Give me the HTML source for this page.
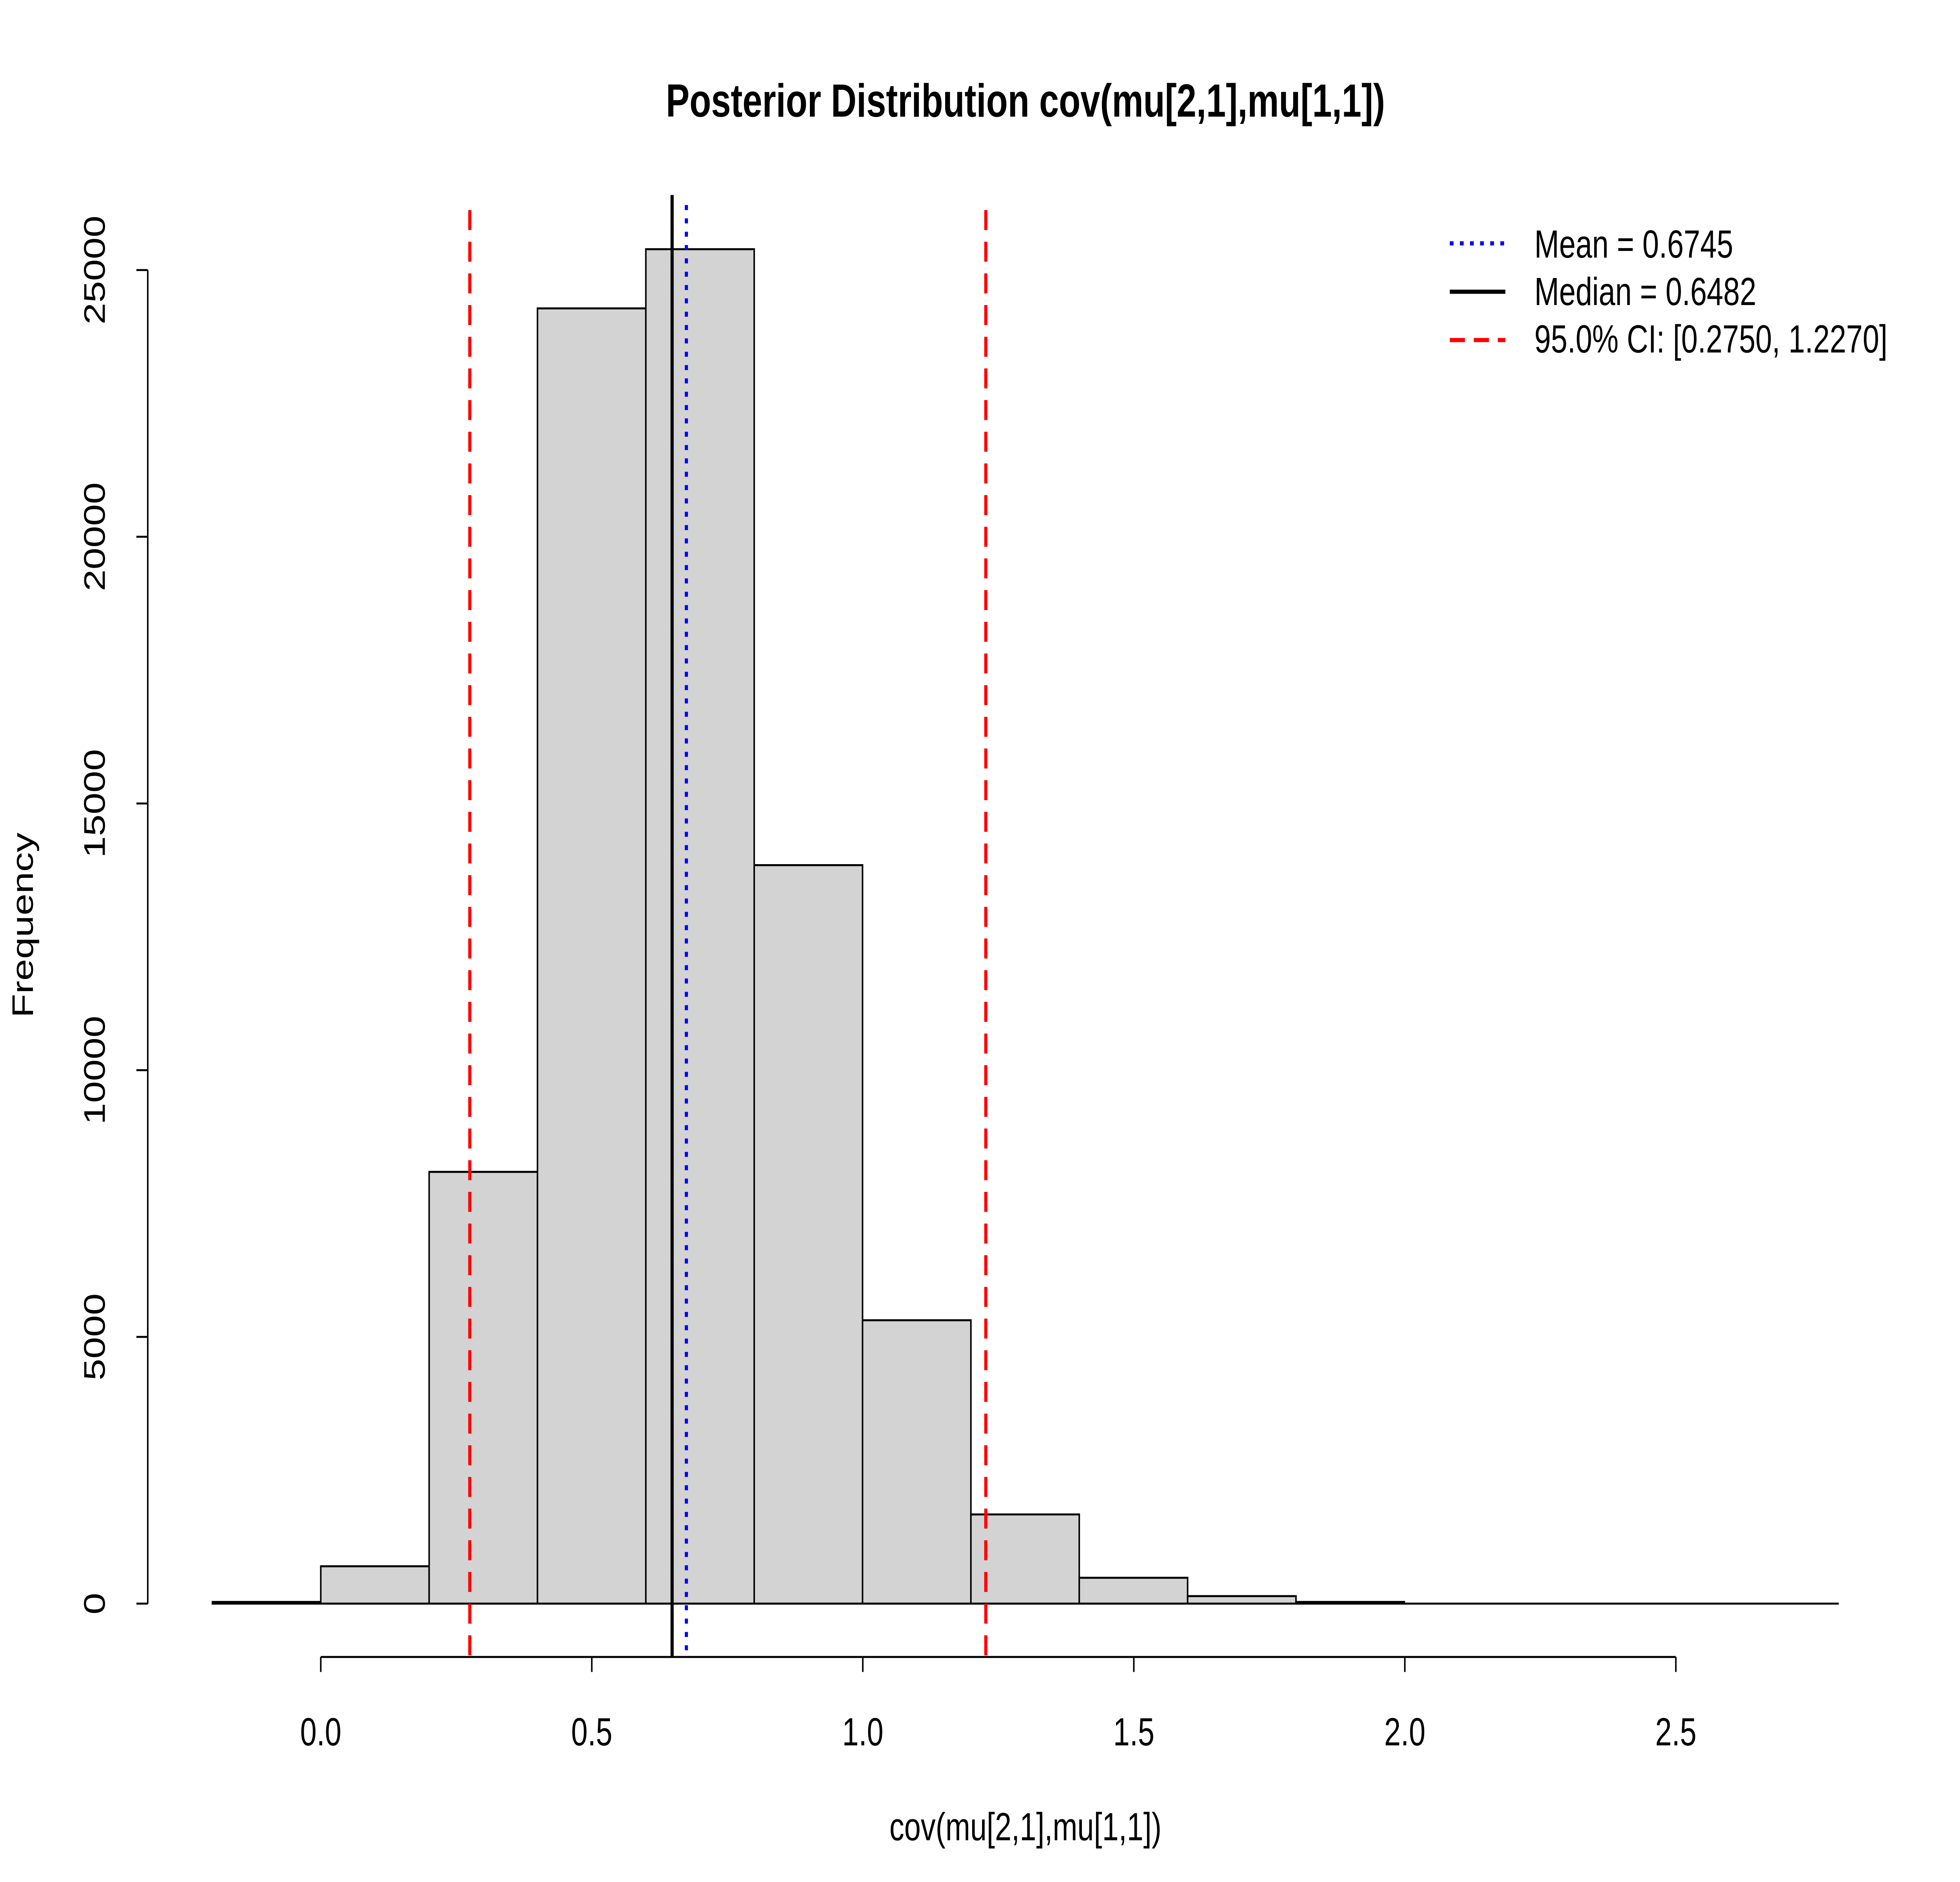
<!DOCTYPE html>
<html><head><style>html,body{margin:0;padding:0;background:#fff;overflow:hidden;width:100vw;height:100vh}svg{display:block;width:100vw;height:100vh}</style></head>
<body>
<svg viewBox="0 0 1552 1129" preserveAspectRatio="none" xmlns="http://www.w3.org/2000/svg" font-family="Liberation Sans, sans-serif">
<rect width="1552" height="1129" fill="#fff"/>
<text x="812" y="70" font-size="28" font-weight="bold" text-anchor="middle">Posterior Distribution cov(mu[2,1],mu[1,1])</text>
<g fill="#d3d3d3" stroke="#000" stroke-width="1.2">
<rect x="168.2" y="961" width="85.8" height="1"/>
<rect x="254" y="939.6" width="85.8" height="22.4"/>
<rect x="339.8" y="703" width="85.8" height="259"/>
<rect x="425.6" y="185" width="85.8" height="777"/>
<rect x="511.4" y="149.5" width="85.8" height="812.5"/>
<rect x="597.2" y="519" width="85.8" height="443"/>
<rect x="683" y="792" width="85.8" height="170"/>
<rect x="768.8" y="908.5" width="85.8" height="53.5"/>
<rect x="854.6" y="946.5" width="85.8" height="15.5"/>
<rect x="940.4" y="957.5" width="85.8" height="4.5"/>
<rect x="1026.2" y="961" width="85.8" height="1"/>
</g>
<line x1="168" y1="962" x2="1456" y2="962" stroke="#000" stroke-width="1.2"/>
<g stroke="#000" stroke-width="1.2">
<line x1="117" y1="162" x2="117" y2="962"/>
<line x1="108" y1="962" x2="117" y2="962"/><line x1="108" y1="802" x2="117" y2="802"/>
<line x1="108" y1="642" x2="117" y2="642"/><line x1="108" y1="482" x2="117" y2="482"/>
<line x1="108" y1="322" x2="117" y2="322"/><line x1="108" y1="162" x2="117" y2="162"/>
<line x1="254" y1="994" x2="1327" y2="994"/>
<line x1="254" y1="994" x2="254" y2="1003"/><line x1="468.6" y1="994" x2="468.6" y2="1003"/>
<line x1="683.2" y1="994" x2="683.2" y2="1003"/><line x1="897.8" y1="994" x2="897.8" y2="1003"/>
<line x1="1112.4" y1="994" x2="1112.4" y2="1003"/><line x1="1327" y1="994" x2="1327" y2="1003"/>
</g>
<g font-size="23.5" text-anchor="middle">
<text x="254" y="1047">0.0</text><text x="468.6" y="1047">0.5</text><text x="683.2" y="1047">1.0</text>
<text x="897.8" y="1047">1.5</text><text x="1112.4" y="1047">2.0</text><text x="1327" y="1047">2.5</text>
<text transform="translate(83,962) rotate(-90)">0</text>
<text transform="translate(83,802) rotate(-90)">5000</text>
<text transform="translate(83,642) rotate(-90)">10000</text>
<text transform="translate(83,482) rotate(-90)">15000</text>
<text transform="translate(83,322) rotate(-90)">20000</text>
<text transform="translate(83,162) rotate(-90)">25000</text>
<text x="812" y="1104">cov(mu[2,1],mu[1,1])</text>
<text transform="translate(26,555) rotate(-90)">Frequency</text>
</g>
<line x1="372" y1="126" x2="372" y2="994" stroke="#f00" stroke-width="2.5" stroke-dasharray="12,7"/>
<line x1="780.6" y1="126" x2="780.6" y2="994" stroke="#f00" stroke-width="2.5" stroke-dasharray="12,7"/>
<line x1="532.2" y1="117" x2="532.2" y2="994" stroke="#000" stroke-width="2.5"/>
<line x1="543.5" y1="123" x2="543.5" y2="994" stroke="#00f" stroke-width="2.5" stroke-dasharray="3,5"/>
<line x1="1148" y1="146" x2="1192" y2="146" stroke="#00f" stroke-width="2.5" stroke-dasharray="3,5"/>
<line x1="1148" y1="175" x2="1192" y2="175" stroke="#000" stroke-width="2.5"/>
<line x1="1148" y1="204" x2="1192" y2="204" stroke="#f00" stroke-width="2.5" stroke-dasharray="12,7"/>
<g font-size="23.5">
<text x="1215" y="154.5">Mean = 0.6745</text>
<text x="1215" y="183">Median = 0.6482</text>
<text x="1215" y="211.5">95.0% CI: [0.2750, 1.2270]</text>
</g>
</svg>
</body></html>
